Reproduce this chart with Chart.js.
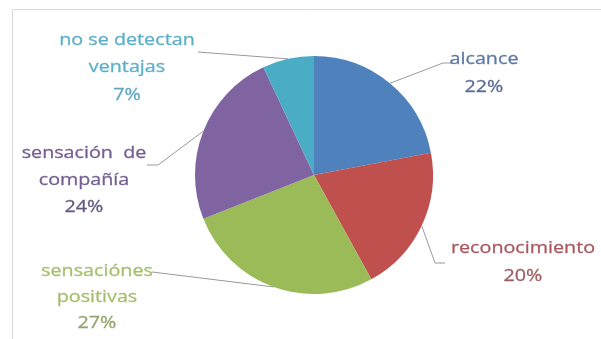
<!DOCTYPE html>
<html>
<head>
<meta charset="utf-8">
<script src="https://cdn.jsdelivr.net/npm/chart.js@4.4.1/dist/chart.umd.min.js"></script>
<style>
  html, body { margin: 0; padding: 0; background: #ffffff; }
  #wrap { width: 601px; height: 339px; position: relative; }
</style>
</head>
<body>
<div id="wrap"><canvas id="c" width="601" height="339"></canvas></div>
<script>
// Ventajas percibidas (porcentaje de respuestas)
const categories = ['alcance', 'reconocimiento', 'sensaciónes positivas', 'sensación de compañía', 'no se detectan ventajas'];
const values = [22, 20, 27, 24, 7];
// Lines of each label as printed beside the pie
const labelLines = [
  ['alcance'],
  ['reconocimiento'],
  ['sensaciónes', 'positivas'],
  ['sensación  de', 'compañía'],
  ['no se detectan', 'ventajas']
];

const sliceColors = ['#4f81bd', '#c0504d', '#9bbb59', '#8064a2', '#4bacc6'];
const textColors = ['#5e79a6', '#a8595f', '#a6bf6c', '#735f93', '#5cb0c9'];
const pctColors = ['#5a6d93', '#9d5e63', '#90a66c', '#665982', '#5ea8c0'];

// Label block placement (centre x, first line centre y) and leader-line path toward the text
const labelLayout = [
  { x: 484, y: 59,  lh: 28, path: [[443, 63], [452, 63]] },
  { x: 523, y: 248, lh: 28, path: [[435, 263], [445, 263]] },
  { x: 97,  y: 271, lh: 26, path: [[152, 272]] },
  { x: 84,  y: 153, lh: 27, path: [[158, 165], [147, 165]] },
  { x: 127, y: 40,  lh: 27.5, path: [[198, 52]] }
];

const frame = {
  id: 'frame',
  beforeDraw(chart) {
    const ctx = chart.ctx;
    ctx.save();
    ctx.strokeStyle = '#d9d9d9';
    ctx.lineWidth = 1;
    ctx.beginPath();
    ctx.moveTo(601, 9.5);
    ctx.lineTo(12.5, 9.5);
    ctx.lineTo(12.5, 339);
    ctx.stroke();
    ctx.restore();
  }
};

const outsideLabels = {
  id: 'outsideLabels',
  afterDraw(chart) {
    const ctx = chart.ctx;
    const meta = chart.getDatasetMeta(0);
    const total = values.reduce((a, b) => a + b, 0);
    ctx.save();
    meta.data.forEach((arc, i) => {
      const p = arc.getProps(['x', 'y', 'startAngle', 'endAngle', 'outerRadius'], true);
      const mid = (p.startAngle + p.endAngle) / 2;
      const sx = p.x + Math.cos(mid) * p.outerRadius;
      const sy = p.y + Math.sin(mid) * p.outerRadius;
      const lay = labelLayout[i];
      // leader line
      ctx.strokeStyle = '#999999';
      ctx.lineWidth = 1;
      ctx.beginPath();
      ctx.moveTo(sx, sy);
      lay.path.forEach(pt => ctx.lineTo(pt[0], pt[1]));
      ctx.stroke();
      // text block
      const lines = labelLines[i].concat([Math.round(values[i] / total * 100) + '%']);
      ctx.font = '17px "Open Sans", sans-serif';
      ctx.textAlign = 'center';
      ctx.textBaseline = 'middle';
      ctx.lineJoin = 'round';
      lines.forEach((t, k) => {
        ctx.save();
        ctx.translate(lay.x, lay.y + k * lay.lh);
        ctx.scale(1.16, 1);
        const col = k === lines.length - 1 ? pctColors[i] : textColors[i];
        ctx.fillStyle = col;
        ctx.strokeStyle = col;
        ctx.lineWidth = 0.3;
        ctx.fillText(t, 0, 0);
        ctx.strokeText(t, 0, 0);
        ctx.restore();
      });
    });
    ctx.restore();
  }
};

new Chart(document.getElementById('c'), {
  type: 'pie',
  data: {
    labels: categories,
    datasets: [{
      data: values,
      backgroundColor: sliceColors,
      borderWidth: 0
    }]
  },
  options: {
    responsive: false,
    animation: false,
    layout: { padding: { left: 195, right: 168, top: 56, bottom: 45 } },
    plugins: {
      legend: { display: false },
      tooltip: { enabled: false }
    }
  },
  plugins: [frame, outsideLabels]
});
</script>
</body>
</html>
